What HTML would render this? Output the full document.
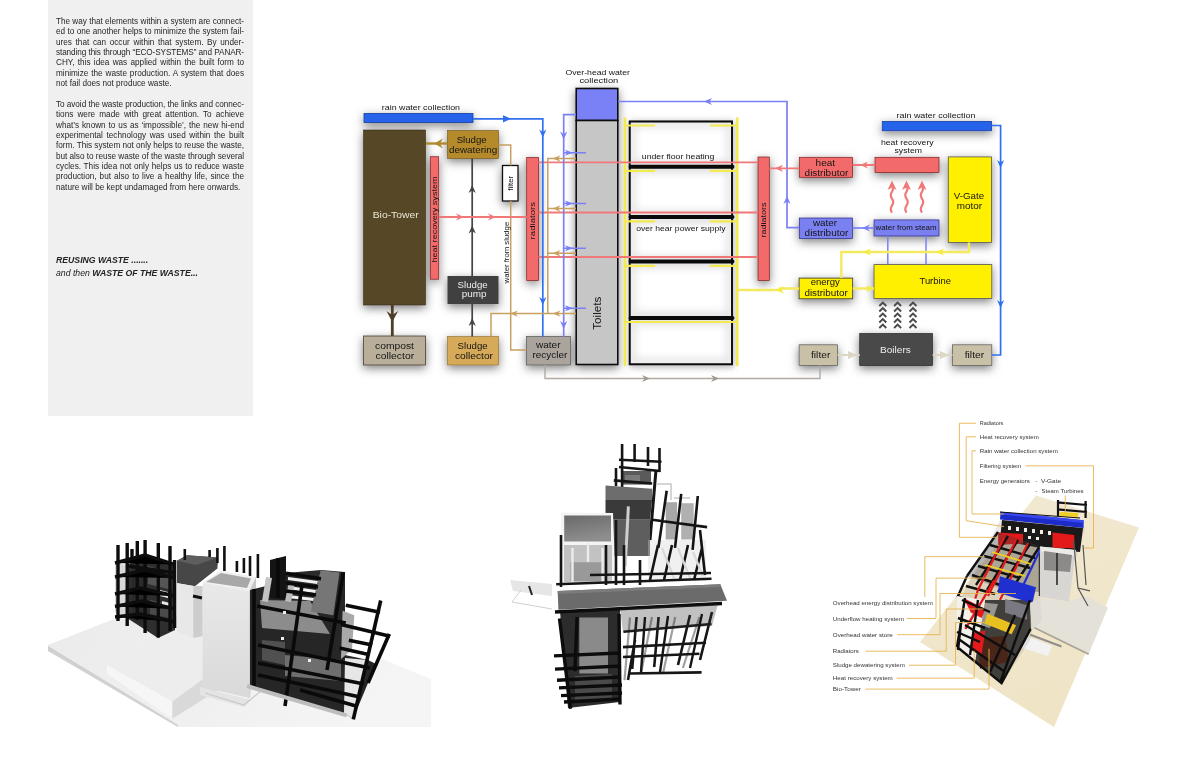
<!DOCTYPE html>
<html><head><meta charset="utf-8">
<style>
html,body{margin:0;padding:0;background:#fff;}
body{width:1200px;height:772px;position:relative;overflow:hidden;font-family:"Liberation Sans",sans-serif;}
#panel{position:absolute;left:48.3px;top:0;width:204.8px;height:415.7px;background:#f0f0f0;}
.tx{position:absolute;left:55.5px;width:188px;font-size:8.2px;line-height:10.35px;color:#262626;will-change:transform;}
.ln{display:block;height:10.35px;white-space:nowrap;text-align:justify;text-align-last:justify;}
.ln.l{text-align-last:left;}
.hd{position:absolute;left:55.5px;top:254.2px;font-size:8.7px;line-height:12.9px;color:#222;font-style:italic;will-change:transform;}
svg{position:absolute;left:0;top:0;will-change:transform;}
</style></head><body>
<div id="panel"></div>
<div class="tx" style="top:17.4px">
<span class="ln" style="letter-spacing:-0.01px">The way that elements within a system are connect-</span>
<span class="ln">ed to one another helps to minimize the system fail-</span>
<span class="ln">ures that can occur within that system. By under-</span>
<span class="ln" style="letter-spacing:-0.1px">standing this through “ECO-SYSTEMS” and PANAR-</span>
<span class="ln">CHY, this idea was applied within the built form to</span>
<span class="ln">minimize the waste production. A system that does</span>
<span class="ln l">not fail does not produce waste.</span>
</div>
<div class="tx" style="top:99.6px">
<span class="ln" style="letter-spacing:-0.05px">To avoid the waste production, the links and connec-</span>
<span class="ln">tions were made with great attention. To achieve</span>
<span class="ln">what’s known to us as ‘impossible’, the new hi-end</span>
<span class="ln">experimental technology was used within the built</span>
<span class="ln" style="letter-spacing:-0.015px">form. This system not only helps to reuse the waste,</span>
<span class="ln" style="letter-spacing:-0.03px">but also to reuse waste of the waste through several</span>
<span class="ln">cycles. This idea not only helps us to reduce waste</span>
<span class="ln">production, but also to live a healthy life, since the</span>
<span class="ln l">nature will be kept undamaged from here onwards.</span>
</div>
<div class="hd"><b>REUSING WASTE .......</b><br>and then <b>WASTE OF THE WASTE...</b></div>
<svg width="1200" height="772" viewBox="0 0 1200 772" font-family="Liberation Sans, sans-serif">
<!-- DIAGRAM -->
<defs>
<filter id="sh" x="-60%" y="-60%" width="220%" height="220%"><feDropShadow dx="0" dy="3" stdDeviation="5" flood-color="#000" flood-opacity="0.5"/></filter>
<filter id="shl" x="-30%" y="-30%" width="160%" height="160%"><feDropShadow dx="1" dy="2" stdDeviation="3" flood-color="#000" flood-opacity="0.3"/></filter>
<filter id="shin" x="-10%" y="-10%" width="120%" height="120%"><feGaussianBlur stdDeviation="4"/></filter>
</defs>
<g fill="#141414">
<!-- floor structure: cells with soft grey edges -->
<g filter="url(#shl)">
<rect x="629.7" y="121.5" width="102.3" height="242.8" fill="#fff" stroke="#111" stroke-width="1.6"/>
</g>
<g filter="url(#shin)" fill="none" stroke="#cfcfcf" stroke-width="5" opacity="0.8">
<rect x="632" y="124" width="98" height="40"/>
<rect x="632" y="170" width="98" height="44"/>
<rect x="632" y="221" width="98" height="38"/>
<rect x="632" y="265" width="98" height="50"/>
<rect x="632" y="322" width="98" height="40"/>
</g>
<rect x="629.7" y="121.5" width="102.3" height="242.8" fill="none" stroke="#0a0a0a" stroke-width="1.8"/>
<g filter="url(#sh)">
<rect x="364" y="113.5" width="109" height="9" fill="#2563eb" stroke="#1b3fa0" stroke-width="0.8"/>
<rect x="363.5" y="130" width="62" height="175" fill="#574628" stroke="#3a2e1a" stroke-width="0.6"/>
<rect x="447.5" y="130.5" width="51" height="28" fill="#b58a2c" stroke="#6b5218" stroke-width="0.6"/>
<rect x="430.3" y="156.7" width="8.4" height="122.5" fill="#f26a6a" stroke="#7a2020" stroke-width="0.7"/>
<rect x="502.5" y="165.5" width="15.5" height="35.5" fill="#fff" stroke="#111" stroke-width="1.3"/>
<rect x="526.7" y="157.5" width="11.8" height="123" fill="#f26a6a" stroke="#7a2020" stroke-width="0.7"/>
<rect x="363.5" y="336" width="62" height="29" fill="#b8ae9a" stroke="#4a4030" stroke-width="0.8"/>
<rect x="447.5" y="276" width="51" height="28" fill="#404040"/>
<rect x="447.5" y="336.5" width="51" height="28.5" fill="#d6aa58" stroke="#8a6a2a" stroke-width="0.6"/>
<rect x="526.5" y="336.5" width="44" height="28.5" fill="#aaa49c" stroke="#555" stroke-width="0.7"/>
<rect x="576.2" y="88.5" width="41.6" height="32" fill="#7a80f5" stroke="#111" stroke-width="1.6"/>
<rect x="576.2" y="120.5" width="41.6" height="244" fill="#c6c6c6" stroke="#111" stroke-width="1.6"/>
<rect x="758" y="157" width="11.3" height="123.5" fill="#f26a6a" stroke="#7a2020" stroke-width="0.7"/>
<rect x="799.3" y="157.3" width="53.2" height="20" fill="#f26a6a" stroke="#7a2020" stroke-width="0.7"/>
<rect x="875" y="157.3" width="64" height="15.2" fill="#f26a6a" stroke="#7a2020" stroke-width="0.7"/>
<rect x="799.3" y="218" width="53.2" height="20.5" fill="#7a80f0" stroke="#2a2a80" stroke-width="0.7"/>
<rect x="874" y="219.9" width="65" height="16.1" fill="#7a80f0" stroke="#2a2a80" stroke-width="0.7"/>
<rect x="948.3" y="156.9" width="43.3" height="85.5" fill="#fff000" stroke="#555" stroke-width="0.8"/>
<rect x="882.3" y="121.4" width="109.3" height="9.3" fill="#2563eb" stroke="#1b3fa0" stroke-width="0.8"/>
<rect x="874" y="264.6" width="117.8" height="33.8" fill="#fff000" stroke="#555" stroke-width="0.8"/>
<rect x="799.1" y="278.1" width="53.6" height="20.7" fill="#fff000" stroke="#333" stroke-width="0.8"/>
<rect x="859.7" y="333.4" width="72.9" height="32.2" fill="#4a4a4a" stroke="#222" stroke-width="0.6"/>
<rect x="799.1" y="344.8" width="38.5" height="20.8" fill="#c9c0a8" stroke="#555" stroke-width="0.7"/>
<rect x="952.4" y="344.8" width="39.4" height="20.8" fill="#c9c0a8" stroke="#555" stroke-width="0.7"/>
</g>
<g fill="none" stroke-linecap="butt">
<path d="M624.9 117.5 V366 M737.2 117.5 V366" stroke="#f3ea50" stroke-width="2.6"/>
<path d="M625 125.5 h30 M710 125.5 h27 M625 170.8 h30 M710 170.8 h27 M625 221.3 h30 M710 221.3 h27 M625 265.8 h30 M710 265.8 h27 M625 322 h112" stroke="#f3ea50" stroke-width="2.2"/>
<path d="M538.5 162.3 H758 M538.5 212.5 H758 M538.5 257 H758" stroke="#f07878" stroke-width="1.8"/>
<path d="M630.5 166.8 H732.5 M630.5 217 H732.5 M630.5 261.5 H732.5 M630.5 318 H732.5" stroke="#0a0a0a" stroke-width="3.9" stroke-linecap="round"/>
</g>
<g fill="none">
<path d="M473 118.8 H542.8 V336.5" stroke="#3070f0" stroke-width="1.7"/>
<path d="M576 114.7 H563.7 V336.5" stroke="#7a80f5" stroke-width="1.7"/>
<path d="M618 101.5 H787 V227.7 H799.3" stroke="#7a80f5" stroke-width="1.7"/>
<path d="M991.6 125.5 H1000.6 V355 H991.8" stroke="#3070f0" stroke-width="1.7"/>
<path d="M563.7 152.8 H586 M563.7 203.5 H586 M563.7 248.2 H586 M563.7 308.3 H586" stroke="#7a80f5" stroke-width="1.5"/>
<path d="M498.5 145 H510.7 V165.5 M510.7 201 V350 H526.5" stroke="#c8a060" stroke-width="1.5"/>
<path d="M576 158.5 H547.8 V313.6 M576 208.5 H547.8 M576 253.3 H547.8 M576 313.6 H491 V336.5" stroke="#c8a060" stroke-width="1.5"/>
<path d="M447.5 143.5 H426" stroke="#b08a30" stroke-width="2.4"/>
<path d="M472.2 158.5 V276 M472.2 304 V336.5" stroke="#444" stroke-width="1.7"/>
<path d="M392.3 305 V336" stroke="#4d3f27" stroke-width="2.8"/>
<path d="M438.7 217 H526.7" stroke="#f07878" stroke-width="1.8"/>
<path d="M769.3 168.3 H799.3 M852.5 165 H875" stroke="#f07878" stroke-width="1.8"/>
<path d="M852.5 228 H874" stroke="#7a80f5" stroke-width="1.7"/>
<path d="M887.8 236 V264.6 M926 236 V264.6" stroke="#7a80f5" stroke-width="1.5"/>
<path d="M969 242.4 V252 H841.3 V278.1" stroke="#f3ea60" stroke-width="2.4"/>
<path d="M874 288.5 H852.7 M799.1 288.5 H780 V290 H737.2" stroke="#f3ea60" stroke-width="2.4"/>
<path d="M545 365 V378.5 H820 V365.6" stroke="#b0aaa0" stroke-width="1.4"/>
<path d="M837.6 355 H859.7 M932.6 355 H952.4" stroke="#ddd6c4" stroke-width="2.2"/>
</g>
<g>
<path d="M503 115.2 L511 118.8 L503 122.4 Z" fill="#3070f0"/>
<path d="M539.2 129.5 L542.8 137.5 L546.4 129.5 L542.8 132 Z" fill="#3070f0"/>
<path d="M539.2 297 L542.8 305 L546.4 297 L542.8 299.5 Z" fill="#3070f0"/>
<path d="M560.1 131.5 L563.7 139.5 L567.3 131.5 L563.7 134 Z" fill="#7a80f5"/>
<path d="M560.1 321 L563.7 329 L567.3 321 L563.7 323.5 Z" fill="#7a80f5"/>
<path d="M704 101.5 L712 97.9 L709.5 101.5 L712 105.1 Z" fill="#7a80f5"/>
<path d="M783.4 204 L787 196 L790.6 204 L787 201.5 Z" fill="#7a80f5"/>
<path d="M862 228 L870 224.4 L867.5 228 L870 231.6 Z" fill="#7a80f5"/>
<path d="M997 160 L1000.6 168 L1004.2 160 L1000.6 162.5 Z" fill="#3070f0"/>
<path d="M997 300 L1000.6 308 L1004.2 300 L1000.6 302.5 Z" fill="#3070f0"/>
<path d="M468.6 193 L472.2 185 L475.8 193 L472.2 190.5 Z" fill="#444"/>
<path d="M468.6 233.5 L472.2 225.5 L475.8 233.5 L472.2 231 Z" fill="#444"/>
<path d="M468.6 326 L472.2 318 L475.8 326 L472.2 323.5 Z" fill="#444"/>
<path d="M386.5 311 L392.3 322 L398.1 311 L392.3 315 Z" fill="#4d3f27"/>
<path d="M434 143.5 L443 138.5 L440 143.5 L443 148.5 Z" fill="#b08a30"/>
<path d="M456 213.4 L464 217 L456 220.6 L458.5 217 Z" fill="#f07878"/>
<path d="M488 213.4 L496 217 L488 220.6 L490.5 217 Z" fill="#f07878"/>
<path d="M775 168.3 L783 164.7 L780.5 168.3 L783 171.9 Z" fill="#f07878"/>
<path d="M860 165 L868 161.4 L865.5 165 L868 168.6 Z" fill="#f07878"/>
<path d="M552.5 158.5 L560.5 155.3 L558 158.5 L560.5 161.7 Z" fill="#c8a060"/>
<path d="M552.5 208.5 L560.5 205.3 L558 208.5 L560.5 211.7 Z" fill="#c8a060"/>
<path d="M552.5 253.3 L560.5 250.1 L558 253.3 L560.5 256.5 Z" fill="#c8a060"/>
<path d="M552.5 313.6 L560.5 310.4 L558 313.6 L560.5 316.8 Z" fill="#c8a060"/>
<path d="M510 313.6 L518 310.4 L515.5 313.6 L518 316.8 Z" fill="#c8a060"/>
<path d="M565 149.8 L573 152.8 L565 155.8 L567 152.8 Z" fill="#7a80f5"/>
<path d="M565 200.5 L573 203.5 L565 206.5 L567 203.5 Z" fill="#7a80f5"/>
<path d="M565 245.2 L573 248.2 L565 251.2 L567 248.2 Z" fill="#7a80f5"/>
<path d="M565 305.3 L573 308.3 L565 311.3 L567 308.3 Z" fill="#7a80f5"/>
<path d="M936 252 L944 248.4 L941.5 252 L944 255.6 Z" fill="#f5ea3a"/>
<path d="M863 252 L871 248.4 L868.5 252 L871 255.6 Z" fill="#f5ea3a"/>
<path d="M874 288.5 L866 284.9 L868.5 288.5 L866 292.1 Z" fill="#f5ea3a"/>
<path d="M776 290 L784 286.4 L781.5 290 L784 293.6 Z" fill="#f5ea3a"/>
<path d="M642 375 L650 378.5 L642 382 L644.5 378.5 Z" fill="#a09a90"/>
<path d="M711 375 L719 378.5 L711 382 L713.5 378.5 Z" fill="#a09a90"/>
<path d="M848 351 L857 355 L848 359 Z" fill="#ddd6c4"/>
<path d="M940 351 L949 355 L940 359 Z" fill="#ddd6c4"/>
</g>
<g fill="none" stroke="#f07878" stroke-width="2.2">
<path d="M892 212.7 q-2.5 -3.5 0 -7 q2.5 -3.5 0 -7 q-2.5 -3.5 0 -7 q2 -3 0 -6"/>
<path d="M906.5 212.7 q-2.5 -3.5 0 -7 q2.5 -3.5 0 -7 q-2.5 -3.5 0 -7 q2 -3 0 -6"/>
<path d="M922 212.7 q-2.5 -3.5 0 -7 q2.5 -3.5 0 -7 q-2.5 -3.5 0 -7 q2 -3 0 -6"/>
</g>
<g fill="#f07878">
<path d="M887.5 190 L892 180.4 L896.5 190 L892 187.5 Z"/>
<path d="M902 190 L906.5 180.4 L911 190 L906.5 187.5 Z"/>
<path d="M917.5 190 L922 180.4 L926.5 190 L922 187.5 Z"/>
</g>
<g fill="none" stroke="#4a4a4a" stroke-width="1.9">
<path d="M879.3 306 l3.5 -3.5 l3.5 3.5 M879.3 311.5 l3.5 -3.5 l3.5 3.5 M879.3 317 l3.5 -3.5 l3.5 3.5 M879.3 322.5 l3.5 -3.5 l3.5 3.5 M879.3 328 l3.5 -3.5 l3.5 3.5"/>
<path d="M894.1 306 l3.5 -3.5 l3.5 3.5 M894.1 311.5 l3.5 -3.5 l3.5 3.5 M894.1 317 l3.5 -3.5 l3.5 3.5 M894.1 322.5 l3.5 -3.5 l3.5 3.5 M894.1 328 l3.5 -3.5 l3.5 3.5"/>
<path d="M909.5 306 l3.5 -3.5 l3.5 3.5 M909.5 311.5 l3.5 -3.5 l3.5 3.5 M909.5 317 l3.5 -3.5 l3.5 3.5 M909.5 322.5 l3.5 -3.5 l3.5 3.5 M909.5 328 l3.5 -3.5 l3.5 3.5"/>
</g>
<!-- labels -->
<g font-size="7.8" lengthAdjust="spacingAndGlyphs">
<text x="381.8" y="110.4" textLength="78.2" lengthAdjust="spacingAndGlyphs">rain water collection</text>
<text x="896.5" y="117.5" textLength="79" lengthAdjust="spacingAndGlyphs">rain water collection</text>
<text x="565.4" y="74.8" textLength="64.6" lengthAdjust="spacingAndGlyphs">Over-head water</text>
<text x="579.4" y="83.3" textLength="38.9" lengthAdjust="spacingAndGlyphs">collection</text>
<text x="880.9" y="145" textLength="52.8" lengthAdjust="spacingAndGlyphs">heat recovery</text>
<text x="894.5" y="153.3" textLength="27.5" lengthAdjust="spacingAndGlyphs">system</text>
<text x="641.8" y="158.5" textLength="72.5" lengthAdjust="spacingAndGlyphs">under floor heating</text>
<text x="636.2" y="230.5" textLength="89.3" lengthAdjust="spacingAndGlyphs">over hear power supply</text>
</g>
<g font-size="9.2">
<text x="372.7" y="218" textLength="46" lengthAdjust="spacingAndGlyphs" fill="#ece6d6">Bio-Tower</text>
<text x="456.7" y="142.7" textLength="30" lengthAdjust="spacingAndGlyphs">Sludge</text>
<text x="449" y="152.7" textLength="48.3" lengthAdjust="spacingAndGlyphs">dewatering</text>
<text x="457.6" y="288" textLength="30" lengthAdjust="spacingAndGlyphs" fill="#eee">Sludge</text>
<text x="461.8" y="297" textLength="24.8" lengthAdjust="spacingAndGlyphs" fill="#eee">pump</text>
<text x="375" y="349" textLength="39" lengthAdjust="spacingAndGlyphs">compost</text>
<text x="375.6" y="359" textLength="38.5" lengthAdjust="spacingAndGlyphs">collector</text>
<text x="457.6" y="348.5" textLength="30" lengthAdjust="spacingAndGlyphs">Sludge</text>
<text x="455" y="358.5" textLength="38" lengthAdjust="spacingAndGlyphs">collector</text>
<text x="536" y="348" textLength="24.5" lengthAdjust="spacingAndGlyphs">water</text>
<text x="532.5" y="358" textLength="34.8" lengthAdjust="spacingAndGlyphs">recycler</text>
<text x="815.6" y="166" textLength="19.4" lengthAdjust="spacingAndGlyphs">heat</text>
<text x="804.6" y="175.6" textLength="43.7" lengthAdjust="spacingAndGlyphs">distributor</text>
<text x="813" y="226" textLength="24" lengthAdjust="spacingAndGlyphs">water</text>
<text x="804.6" y="236" textLength="43.7" lengthAdjust="spacingAndGlyphs">distributor</text>
<text x="953.8" y="198.7" textLength="30.4" lengthAdjust="spacingAndGlyphs">V-Gate</text>
<text x="956.7" y="208.8" textLength="25.3" lengthAdjust="spacingAndGlyphs">motor</text>
<text x="919.5" y="283.9" textLength="31.5" lengthAdjust="spacingAndGlyphs">Turbine</text>
<text x="810.7" y="285" textLength="29.2" lengthAdjust="spacingAndGlyphs">energy</text>
<text x="804.4" y="296" textLength="43.4" lengthAdjust="spacingAndGlyphs">distributor</text>
<text x="880.1" y="353" textLength="30.7" lengthAdjust="spacingAndGlyphs" fill="#eee">Boilers</text>
<text x="811" y="358" textLength="19.3" lengthAdjust="spacingAndGlyphs">filter</text>
<text x="964.7" y="358" textLength="19.6" lengthAdjust="spacingAndGlyphs">filter</text>
</g>
<text x="875.5" y="229.8" font-size="7" textLength="61" lengthAdjust="spacingAndGlyphs">water from steam</text>
<g font-size="7.8">
<text transform="translate(434.3 219.5) rotate(-90)" x="-43" y="2.8" textLength="86" lengthAdjust="spacingAndGlyphs">heat recovery system</text>
<text transform="translate(532.3 220.7) rotate(-90)" x="-18.7" y="2.8" textLength="37.4" lengthAdjust="spacingAndGlyphs">radiators</text>
<text transform="translate(763.6 220) rotate(-90)" x="-17.5" y="2.8" textLength="35" lengthAdjust="spacingAndGlyphs">radiators</text>
<text transform="translate(506.3 252.6) rotate(-90)" x="-30.8" y="2.8" textLength="61.6" lengthAdjust="spacingAndGlyphs">water from sludge</text>
<text transform="translate(510.7 183.3) rotate(-90)" x="-7.5" y="2.6" font-size="7" textLength="15" lengthAdjust="spacingAndGlyphs">filter</text>
</g>
<text transform="translate(597.3 313.2) rotate(-90)" x="-16.5" y="3.8" font-size="10.5" textLength="33" lengthAdjust="spacingAndGlyphs">Toilets</text>
</g>

<!-- PHOTOS --><g id="photo1">
<defs>
<linearGradient id="p1plate" x1="0" y1="0" x2="1" y2="0.2">
<stop offset="0" stop-color="#ebebeb"/><stop offset="0.45" stop-color="#efefef"/><stop offset="1" stop-color="#f5f5f5"/>
</linearGradient>
<linearGradient id="p1tall" x1="0" y1="0" x2="0" y2="1">
<stop offset="0" stop-color="#e9e9e9"/><stop offset="1" stop-color="#d9d9d9"/>
</linearGradient>
</defs>
<!-- plate -->
<polygon points="48,645 114,619 250,612 380,658 431,679 431,727 178,727 48,650" fill="url(#p1plate)"/>
<polygon points="48,646 178,725 178,727 48,651" fill="#cfcfcf"/>
<!-- low box in front -->
<polygon points="107,665 174,632.6 201,638.3 218.3,668 172.3,701.6" fill="#ededed"/>
<polygon points="107,665 172.3,701.6 172.3,718.8 107,673.8" fill="#f6f6f6"/>
<polygon points="172.3,701.6 218.3,668 218.3,690 172.3,718.8" fill="#d9d9d9"/>
<polygon points="200,687 250.8,700 244,707 200,695" fill="#e4e4e4"/>
<path d="M205 693 L244 705 L262 690" stroke="#c8c8c8" stroke-width="1.2" fill="none"/>
<path d="M52 652 L174 724" stroke="#d6d6d6" stroke-width="1"/>
<!-- left tower -->
<polygon points="127,565 145,556 175,565 175,630 158,638 127,618" fill="#2e2e2e"/>
<polygon points="115,563 127,565 127,618 115,612" fill="#d8d8d8"/>
<polygon points="148,566 172,573 172,590 148,584" fill="#555"/>
<polygon points="150,600 170,604 170,618 150,614" fill="#4a4a4a"/>
<polygon points="160,590 168,592 168,598 160,596" fill="#eee"/>
<polygon points="162,601 170,603 170,608 162,606" fill="#e8e8e8"/>
<polygon points="132,566 146,566 146,625 132,620" fill="#2a2a2a"/>
<g stroke="#0d0d0d" stroke-width="3.4">
<path d="M118 545 V621 M127.2 543 V626 M132 549 V560 M137.3 541 V620 M145.1 540 V633 M158.3 543 V637.6 M170 546 V631 M174.6 560 V628"/>
<path d="M115 563 L145 555 L175 564.5 M115 577 L145 570 L175 578 M115 594 L140 588 L175 596 M115 606.5 L142 601 L175 609 M115 617 L140 614 L175 622 M128 566 L175 573"/>
</g>
<!-- dark block top middle -->
<polygon points="177,560.7 187,555.2 218.2,557.5 217.4,568.4 194.9,586.3 177,583.2" fill="#474747"/>
<polygon points="177,560.7 187,555.2 218.2,557.5 196,565" fill="#5e5e5e"/>
<g stroke="#111" stroke-width="2.6"><path d="M184.8 549 V560 M209.6 550 V557 M217.4 548 V563 M224.4 546 V571 M236.9 561 V572 M243.9 558 V573 M250 556 V576 M257.9 554 V578"/></g>
<!-- middle white box -->
<polygon points="177,583 195,586.3 202.6,586 202.6,636 195,638 177,632" fill="#e8e8e8"/>
<polygon points="193.3,586.3 202.6,586 202.6,636 193.3,638" fill="#cdcdcd"/>
<path d="M193 596 L202 598" stroke="#111" stroke-width="3"/>
<!-- tall box -->
<polygon points="202.6,582.4 220.5,570.8 256,577 249.3,591" fill="#f0f0f0"/>
<polygon points="206,582 221,573 251,578.5 247,588" fill="#a8a8a8"/>
<polygon points="202.6,582.4 249.3,591 249.3,698 202.6,687" fill="url(#p1tall)"/>
<polygon points="249.3,591 256,577 256,600 250,698 249.3,698" fill="#c8c8c8"/>
<!-- big grid: dark mass -->
<polygon points="250,590 270,585 286,600 311,611 321,570 345,572 345,605 390,636 368,683 353,719 344,713 250,688" fill="#262626"/>
<polygon points="270,560 286,556 286,600 270,598" fill="#141414"/>
<!-- upper open area of grid (white background showing between bars) -->
<polygon points="286,573 321,570 311,611 286,600" fill="#2a2a2a"/>
<g fill="#f0f0f0"><polygon points="288,577 318,581 317,584 288,580"/><polygon points="288,586 316,590 315,593 288,589"/><polygon points="288,595 314,598 313,601 288,598"/><polygon points="300,603 311,604 310,607 300,606"/></g>
<polygon points="345,605 380,612 368,660 345,655" fill="#ffffff"/>
<polygon points="380,612 390,636 378,665 368,660" fill="#ffffff"/>
<polygon points="345,658 368,660 353,719 344,713" fill="#e6e6e6"/>
<!-- grey slab + blocks -->
<polygon points="260,600 310,601 330,634 262,628" fill="#8c8c8c"/>
<polygon points="342.6,610.7 354.3,615.3 352,649.5 341,658.9" fill="#a9a9a9"/>
<polygon points="285,655 341,660 341,681 285,676" fill="#6e6e6e"/>
<polygon points="262,640 285,642 285,665 262,660" fill="#505050"/>
<polygon points="320.9,570.2 339.5,572.5 333.3,615.3 310.8,611.4" fill="#767676"/>
<polygon points="266,577 272,578 268,602 262,601" fill="#c4c4c4"/>
<polygon points="289,582 295,583 291,602 285,601" fill="#bdbdbd"/>
<g stroke="#0a0a0a" stroke-width="3.6">
<path d="M254 589 V688 M278 558 V598 M343.4 572.5 L327 670 M380.7 600.5 L353.3 719.3 M389.3 634 L368 683 M302 585 L285 706"/>
<path d="M257.1 606 L345.8 623.1 M345.8 605.2 L380 612.2 M341 624.6 L390 636.3 M348.9 640.2 L372.2 644.9 M339.5 648 L367.5 654.2 M286 573.3 L321 578.8 M286 583 L318 587 M286 591 L316 595 M258 645 L370 668 M258 663 L364 684 M258 675 L360 697 M300 690 L356 706"/>
</g>
<path d="M247 686 L346.7 715.3" stroke="#bdbdbd" stroke-width="4"/>
<g fill="#eee"><rect x="283" y="611" width="3" height="3"/><rect x="281" y="637" width="3" height="3"/><rect x="308" y="659" width="3" height="3"/></g>
</g>
<g id="photo2">
<!-- side plate -->
<polygon points="510,580 552,584 552,596 513,591" fill="#e6e6e6"/>
<path d="M521 590 L512 602 L552 609" stroke="#cfcfcf" stroke-width="1" fill="none"/>
<path d="M529 586 L532 595" stroke="#222" stroke-width="2"/>
<!-- top grid -->
<polygon points="621,471 651,471 651,484.6 621,484.6" fill="#5a5a5a"/>
<polygon points="625,475 640,475 640,482 625,482" fill="#7a7a7a"/>
<g stroke="#151515" stroke-width="2.6">
<path d="M622.1 444 V492 M634.6 444 V462 M648 447 V466 M659.5 448 V472 M616 468 V486"/>
<path d="M619 459.7 L661.5 461.8 M619 467 L660 471 M613.8 480.4 L652.2 483.5"/>
<path d="M656 470 L650 540" stroke-width="3"/>
</g>
<!-- dark block -->
<polygon points="605.5,485.6 652.2,488.7 652,500 605.5,500" fill="#6d6d6d"/>
<polygon points="605.5,500 652,500 650,519.8 605.5,519.8" fill="#3a3a3a"/>
<polygon points="612.8,520 650,520 650,556 612.8,556" fill="#5e5e5e"/>
<!-- right structure -->
<polygon points="665.7,502.2 677.1,502.2 677.1,539.5 665.7,539.5" fill="#a8a8a8"/>
<polygon points="681.2,503.2 693.7,503.2 693.7,539.5 681.2,539.5" fill="#b0b0b0"/>
<path d="M656 484 H671 V500 M674 498 H690" stroke="#c8c8c8" stroke-width="1.5" fill="none"/>
<polygon points="648,540 706,540 706,581 648,581" fill="#d5d5d5" opacity="0.35"/>
<g stroke="#141414" stroke-width="2.6">
<path d="M666.7 490.8 L658.4 547.8 M681.2 493.9 L675 547.8 M697.8 496 L692.6 549.9 M652.2 519.8 L707.1 527.1"/>
<path d="M658 545 L650 580 M672 545 L664 580 M688 545 L680 580 M702 548 L694 580 M700 530 L705 575"/>
</g>
<g stroke="#d8d8d8" stroke-width="2.2"><path d="M662 548 L674 578 M678 548 L690 578 M693 552 L703 576"/></g>
<path d="M628.4 506.3 L625.2 566.5" stroke="#cfcfcf" stroke-width="3"/>
<!-- open box -->
<polygon points="561,512.5 613,513 615.5,583 561,583.5" fill="#f4f4f4"/>
<defs><linearGradient id="p2int" x1="0" y1="0" x2="0.3" y2="1"><stop offset="0" stop-color="#6a6a6a"/><stop offset="1" stop-color="#8e8e8e"/></linearGradient></defs><polygon points="564.2,515.6 611,515.6 611,541.6 564.2,541.6" fill="url(#p2int)"/>
<polygon points="564,545 612,545 612,582 564,582" fill="#c2c2c2"/>
<polygon points="570.5,562.3 603.6,562.3 603.6,581 570.5,581" fill="#999"/>
<path d="M572.5 548 V582 M602.6 548 V582 M588 543 V562" stroke="#ececec" stroke-width="2.4"/>
<g stroke="#151515" stroke-width="2.6">
<path d="M561 535 V587 M616 520 V585 M606 545 V585 M624 545 V585 M640 560 V585"/>
<path d="M556.2 584.3 L711.5 578.8 M590 575 L711 573"/>
</g>
<!-- beam -->
<polygon points="557.7,591 720.3,584.3 727,600.8 558.4,609.7" fill="#6b6b6b"/>
<polygon points="557.7,591 720.3,584.3 721,587 557.7,594" fill="#7c7c7c"/>
<!-- lower left cage -->
<polygon points="560,611 620,609 620,702 568,708" fill="#2c2c2c"/>
<polygon points="579.3,617.4 608,617.4 608,673.5 579.3,673.5" fill="#8a8a8a"/>
<polygon points="575,676 612,674 612,700 575,702" fill="#4a4a4a"/>
<g stroke="#0c0c0c" stroke-width="3.4">
<path d="M559.5 618.5 L570.5 708.8 M619 614 L620 704.4 M577.1 617 L574.9 671.3"/>
<path d="M554 655.9 L620 653 M555 669.1 L621 666 M557 680.2 L621 677 M559 687.9 L622 685 M561 695.6 L622 693 M564 702 L620 699"/>
</g>
<path d="M555 612 L722 603.5" stroke="#0c0c0c" stroke-width="3.6"/>
<!-- lower right grid -->
<g stroke="#a0a0a0" stroke-width="2.2"><path d="M630 617.4 L624.5 680.2 M652 617 L641 673.5 M675.2 617 L663 673.5 M699.4 617 L682.9 668"/></g>
<g stroke="#161616" stroke-width="2.6">
<path d="M623.4 631.7 L711.5 624 M623 647.1 L706 642.7 M623 657 L699.4 653.7 M630 673.5 L701.6 672.4"/>
<path d="M636.6 617 L632.2 669 M658.6 617 L654.2 667 M690 615 L678 665 M712 612 L700 660 M635 640 L628 680"/>
</g>
<polygon points="620,609 718,604 712,626 623,632" fill="#333" opacity="0.3"/>
<g stroke="#151515" stroke-width="2.4"><path d="M645 617 L641 672 M668 616 L660 672 M702 614 L690 668"/></g>
</g>
<g id="photo3">
<defs>
<linearGradient id="p3board" x1="0" y1="0" x2="0.3" y2="1">
<stop offset="0" stop-color="#f1e9d2"/><stop offset="1" stop-color="#efe4c6"/>
</linearGradient>
</defs>
<!-- board -->
<polygon points="1036,495.5 1139,527.6 1054,727 920,642" fill="url(#p3board)"/>
<polygon points="1039,598 1069,601 1085,596 1108,607.6 1088.7,654.2 1033,627" fill="#e4e1d8"/>
<path d="M1033 627 L1088.7 654.2" stroke="#aaa394" stroke-width="1.8"/>
<polygon points="1026,636 1052,646 1048,656 1022,648" fill="#f2f2f2"/>
<path d="M1030.4 634.8 L1061.5 646.5" stroke="#8e8e8e" stroke-width="2"/>
<!-- model shadow base -->
<polygon points="1000,520 1085,528 1075,560 1040,598 1030,640 1002,684 957,648 960,600 990,540" fill="#2a2a2a" opacity="0.1"/>
<!-- top small grid -->
<g stroke="#111" stroke-width="2.2" fill="none">
<path d="M1058 500 V516 M1085.6 501 V518 M1057 502.3 L1087 505 M1057 509.3 L1087 512"/>
</g>
<polygon points="1059.6,512 1078.2,513 1078,517 1059.6,516" fill="#f0d020"/>
<!-- black grid under beam -->
<polygon points="1002,520 1083,528 1080,552 1040,548 1000,540" fill="#1a1a1a"/>
<g fill="#f2eee6">
<rect x="1008" y="526" width="3" height="4"/><rect x="1016" y="527" width="3" height="4"/><rect x="1024" y="528" width="3" height="4"/><rect x="1032" y="529" width="3" height="4"/><rect x="1040" y="530" width="3" height="4"/><rect x="1048" y="531" width="3" height="4"/>
<rect x="1012" y="534" width="3" height="3"/><rect x="1028" y="536" width="3" height="3"/><rect x="1036" y="537" width="3" height="3"/>
</g>
<polygon points="1000.5,511.7 1083.6,520.2 1083.6,528 1000,519.4" fill="#1d2bc8"/>
<polygon points="1000.5,511.7 1083.6,520.2 1083.6,523 1000.5,514.5" fill="#3848f0"/>
<path d="M1000 512 L1080 518" stroke="#111" stroke-width="1"/>
<!-- red panels top -->
<polygon points="998.2,532.6 1023,534 1023,543.5 998.2,545" fill="#e41a1a"/>
<polygon points="1052.5,532.6 1074.3,535 1074.3,548.2 1052.5,547.8" fill="#e41a1a"/>
<!-- slanted grid -->
<polygon points="998,532 1040,546 1040,592 1010,592 967,576" fill="#3a3a3a" opacity="0.3"/>
<g stroke="#111" stroke-width="2.4" fill="none">
<path d="M998 532 L967 576 M1008 536 L976 585 M1018 540 L987 590 M1030 544 L998 592 M1040 546 L1010 592"/>
<path d="M990 545 L1035 558 M984 556 L1030 568 M978 566 L1020 578 M972 575 L1000 585 M966 586 L995 594"/>
<path d="M967 576 L958 596 L975 604 M1040 548 L1040 596"/>
</g>
<g stroke="#e41a1a" stroke-width="2.2" fill="none">
<path d="M1004 538 L978 590 L966 628 M1016 540 L988 596 M1028 543 L1000 600"/>
</g>
<g stroke="#f0d020" stroke-width="1.8"><path d="M992 552 L1034 565 M985 565 L1025 576"/></g>
<path d="M1040 550 L1020 592" stroke="#2030d0" stroke-width="2.2"/>
<!-- white open box -->
<polygon points="1039.8,546.6 1076,550 1069,601.4 1039.8,596.7" fill="#d8d6d2"/>
<polygon points="1039.8,546.6 1076,550 1074,556 1042,552" fill="#eceae6"/>
<polygon points="1044,551 1072,555 1070,572 1044,570" fill="#8c8a88"/>
<path d="M1057 553 V585" stroke="#2a2a2a" stroke-width="1.6"/>
<g stroke="#555" stroke-width="1.2" fill="none"><path d="M1073.6 540.8 L1078 588 L1090 590.9 M1083 545 L1086 585 M1078 588 L1088 606"/></g>
<!-- lower model -->
<polygon points="985,600 1030,600 1031,630 1002,683 975,662" fill="#262626" opacity="0.85"/><polygon points="957,596 985,600 975,662 957,647" fill="#f4f0ea"/>
<polygon points="975,602 998,604 990,628 968,622" fill="#f0ece4" opacity="0.5"/>
<polygon points="999.8,576.3 1036,587.2 1032.4,603.5 998,592.6" fill="#1f2fd0"/>
<polygon points="1005.2,599 1027,605.3 1027,619.8 1005,612.6" fill="#7a7880"/>
<polygon points="987.1,613.5 1016.1,625.2 1011.6,634.3 984.4,623.4" fill="#e8c020"/>
<polygon points="978,637.9 1005.2,636 1008.9,661.5 979.9,668.7" fill="#4a2618"/>
<polygon points="963.6,598 985.3,608.9 981.7,618 970.8,612.6" fill="#e41a1a"/>
<polygon points="973.5,632.5 985.3,630.7 981.7,654.2 970.8,650.6" fill="#e41a1a"/>
<path d="M994.4 580 L965.4 628.9" stroke="#e41a1a" stroke-width="2.4"/>
<g stroke="#0e0e0e" stroke-width="2.4" fill="none">
<path d="M962 600 L990 612 M958 618 L985 628 M957 632 L980 642 M965 598 L957 647 M978 600 L970 655"/>
<path d="M957.2 647 L1001.6 683.2 L1030.6 628.9 M960 640 L1005 672 M965 625 L1015 655 M1030 600 L1000 683 M1015 615 L990 672 M962 615 L958 650"/>
</g>
<polygon points="1030,603 1040,598 1042,620 1032,630" fill="#dddad4"/>
<!-- label lines -->
<g stroke="#e8b450" stroke-width="0.9" fill="none">
<path d="M976 423.2 H959.4 V537.3 H998"/>
<path d="M976 436.8 H966.2 V520.7 L1004 526.6"/>
<path d="M976 450.8 H972 V514 H1004"/>
<path d="M1025.5 465.8 H1093.5 V548 H1083.8"/>
<path d="M1065.3 495.5 V513"/>
<path d="M924.8 597 V556.7 H984.7"/>
<path d="M906.6 618.5 H936 V578.1 H992.6"/>
<path d="M897.3 634.7 H940 V593.5 H1016"/>
<path d="M865.4 651.2 H946.2 V609 H983.5"/>
<path d="M909 665.2 H955.5 V622.5 H985.3"/>
<path d="M896.5 678.2 H974.2 V650.6"/>
<path d="M865.4 689.1 H989 V648.8"/>
</g>
<g fill="#333" font-size="5.6">
<text x="979.8" y="425.2" textLength="23.5" lengthAdjust="spacingAndGlyphs">Radiators</text>
<text x="979.8" y="438.8" textLength="59" lengthAdjust="spacingAndGlyphs">Heat recovery system</text>
<text x="979.8" y="452.8" textLength="78" lengthAdjust="spacingAndGlyphs">Rain water collection system</text>
<text x="979.8" y="467.8" textLength="41.5" lengthAdjust="spacingAndGlyphs">Filtering system</text>
<text x="979.8" y="483" textLength="50" lengthAdjust="spacingAndGlyphs">Energy generators</text>
<text x="1035.5" y="483">-</text><text x="1041" y="483" textLength="20" lengthAdjust="spacingAndGlyphs">V-Gate</text>
<text x="1035.5" y="492.6">-</text><text x="1041.5" y="492.6" textLength="42" lengthAdjust="spacingAndGlyphs">Steam Turbines</text>
<text x="832.8" y="604.5" textLength="100" lengthAdjust="spacingAndGlyphs">Overhead energy distribution system</text>
<text x="832.8" y="620.5" textLength="71" lengthAdjust="spacingAndGlyphs">Underflow heating system</text>
<text x="832.8" y="636.7" textLength="60" lengthAdjust="spacingAndGlyphs">Overhead water store</text>
<text x="832.8" y="653.2" textLength="26" lengthAdjust="spacingAndGlyphs">Radiators</text>
<text x="832.8" y="667.2" textLength="72" lengthAdjust="spacingAndGlyphs">Sludge dewatering system</text>
<text x="832.8" y="680.2" textLength="60" lengthAdjust="spacingAndGlyphs">Heat recovery system</text>
<text x="832.8" y="691.1" textLength="28" lengthAdjust="spacingAndGlyphs">Bio-Tower</text>
</g>
</g>
<!-- /PHOTOS -->
</svg>
</body></html>
